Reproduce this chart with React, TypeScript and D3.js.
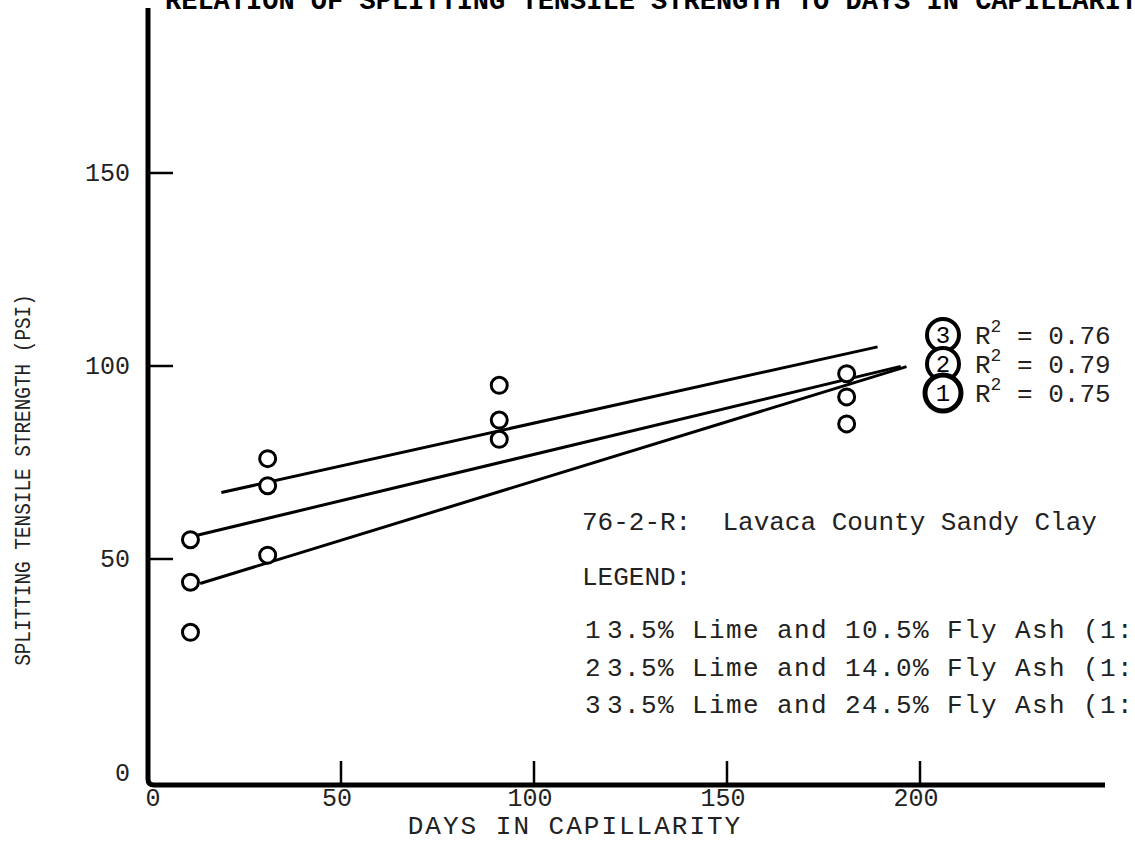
import React, { useEffect, useRef } from 'react';
import * as d3 from 'd3';

// chart text
const title = 'RELATION OF SPLITTING TENSILE STRENGTH TO DAYS IN CAPILLARITY';
const xTitle = 'DAYS IN CAPILLARITY';
const yTitle = 'SPLITTING TENSILE STRENGTH (PSI)';
const soilName = '76-2-R:  Lavaca County Sandy Clay';

const xTicks = [0, 50, 100, 150, 200];
const yTicks = [0, 50, 100, 150];

// observed points (days, psi)
const obsDays = [11, 11, 11, 31, 31, 31, 91, 91, 91, 181, 181, 181];
const obsPsi = [55, 44, 31, 76, 69, 51, 95, 86, 81, 98, 92, 85];

// regression lines per mix
const mixIds = ['1', '2', '3'];
const fitFrom = [13.5, 13, 19];
const fitTo = [196.5, 195, 189];
const fitIntercept = [39.5, 53.1, 63];
const fitSlope = [0.307, 0.24, 0.222];
const rSquared = ['0.75', '0.79', '0.76'];
const mixLabels = [
  '3.5% Lime and 10.5% Fly Ash (1:3)',
  '3.5% Lime and 14.0% Fly Ash (1:4)',
  '3.5% Lime and 24.5% Fly Ash (1:7)',
];

const FONT = '"Liberation Mono", "DejaVu Sans Mono", monospace';

const App = () => {
  const ref = useRef(null);
  const W = 1135;
  const H = 842;
  const originX = 148;
  const axisY = 785;

  useEffect(() => {
    const svg = d3.select(ref.current);
    svg.selectAll('*').remove();

    const x = d3.scaleLinear().domain([0, 200]).range([originX, 920]);
    const y = d3.scaleLinear().domain([50, 100]).range([559, 366]);

    // title, mostly cut off at the top of the scan
    svg.append('text')
      .attr('x', 165).attr('y', 9)
      .attr('font-family', FONT).attr('font-size', 27).attr('font-weight', 'bold')
      .text(title);

    // axes
    svg.append('path')
      .attr('d', `M${originX},8 L${originX},${axisY - 6} Q${originX},${axisY} ${originX + 6},${axisY} L1105,${axisY}`)
      .attr('fill', 'none').attr('stroke', '#000').attr('stroke-width', 5);

    svg.append('g').selectAll('line').data(yTicks.filter(d => d > 0)).join('line')
      .attr('x1', originX).attr('x2', originX + 25)
      .attr('y1', d => y(d)).attr('y2', d => y(d))
      .attr('stroke', '#000').attr('stroke-width', 2.5);

    svg.append('g').selectAll('text').data(yTicks).join('text')
      .attr('x', 130).attr('y', d => (d === 0 ? axisY - 12 : y(d)) + 8)
      .attr('text-anchor', 'end')
      .attr('font-family', FONT).attr('font-size', 25).attr('fill', '#222')
      .text(d => d);

    svg.append('g').selectAll('line').data(xTicks.filter(d => d > 0)).join('line')
      .attr('x1', d => x(d)).attr('x2', d => x(d))
      .attr('y1', axisY - 24).attr('y2', axisY)
      .attr('stroke', '#000').attr('stroke-width', 2.5);

    svg.append('g').selectAll('text').data(xTicks).join('text')
      .attr('x', d => x(d) + (d === 0 ? 5 : -4)).attr('y', axisY + 21)
      .attr('text-anchor', 'middle')
      .attr('font-family', FONT).attr('font-size', 25).attr('fill', '#222')
      .text(d => d);

    svg.append('text')
      .attr('x', 575).attr('y', 834)
      .attr('text-anchor', 'middle')
      .attr('font-family', FONT).attr('font-size', 26).attr('letter-spacing', 2).attr('fill', '#222')
      .text(xTitle);

    svg.append('text')
      .attr('transform', 'translate(30,480) rotate(-90) scale(0.88,1)')
      .attr('text-anchor', 'middle')
      .attr('font-family', FONT).attr('font-size', 22).attr('fill', '#222')
      .text(yTitle);

    // regression lines
    const line = d3.line<number>()
      .x(d => x(d[0]))
      .y(d => y(d[1]));
    svg.append('g').selectAll('path').data(mixIds).join('path')
      .attr('d', (_, i) => line([fitFrom[i], fitTo[i]].map(t => [t, fitIntercept[i] + fitSlope[i] * t]) as any))
      .attr('fill', 'none').attr('stroke', '#000').attr('stroke-width', 3);

    // observations
    svg.append('g').selectAll('circle').data(obsPsi).join('circle')
      .attr('cx', (_, i) => x(obsDays[i]))
      .attr('cy', d => y(d))
      .attr('r', 8)
      .attr('fill', '#fff').attr('stroke', '#000').attr('stroke-width', 3);

    // R-squared labels, 3 on top
    const rOrder = [2, 1, 0];
    const rg = svg.append('g').selectAll('g').data(rOrder).join('g')
      .attr('transform', (_, k) => `translate(943,${335 + k * 29})`);
    rg.append('circle')
      .attr('r', d => (d === 0 ? 18 : 16))
      .attr('fill', '#fff').attr('stroke', '#000').attr('stroke-width', d => (d === 0 ? 5 : 4));
    rg.append('text')
      .attr('y', 8).attr('text-anchor', 'middle')
      .attr('font-family', FONT).attr('font-size', 24).attr('fill', '#000')
      .text(d => mixIds[d]);
    const rt = rg.append('text')
      .attr('x', 32).attr('y', 9)
      .attr('font-family', FONT).attr('font-size', 26).attr('fill', '#222');
    rt.append('tspan').text('R');
    rt.append('tspan').attr('dy', -12).attr('font-size', 18).text('2');
    rt.append('tspan').attr('dy', 12).text(d => ` = ${rSquared[d]}`);

    // legend block
    svg.append('text')
      .attr('x', 582).attr('y', 530)
      .attr('font-family', FONT).attr('font-size', 26).attr('fill', '#222')
      .style('white-space', 'pre')
      .text(soilName);
    svg.append('text')
      .attr('x', 582).attr('y', 585)
      .attr('font-family', FONT).attr('font-size', 26).attr('fill', '#222')
      .text('LEGEND:');
    const lg = svg.append('g').selectAll('g').data(mixIds).join('g')
      .attr('transform', (_, i) => `translate(585,${638 + i * 37.5})`);
    lg.append('text')
      .attr('font-family', FONT).attr('font-size', 26).attr('fill', '#222')
      .text(d => d);
    lg.append('text')
      .attr('x', 22)
      .attr('font-family', FONT).attr('font-size', 26).attr('letter-spacing', 1.4).attr('fill', '#222')
      .text((_, i) => mixLabels[i]);
  }, []);

  return (
    <svg ref={ref} width={W} height={H}
      style={{ position: 'absolute', left: 0, top: 0, background: '#fff' }} />
  );
};

export default App;
